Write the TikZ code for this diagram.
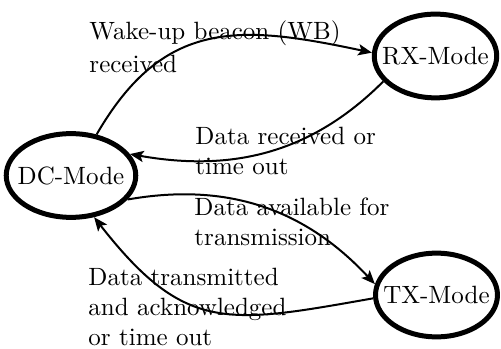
\documentclass[tikz,border=0pt]{standalone}
\usepackage{amsmath}
\usepackage{tikz}
\usetikzlibrary{shapes.geometric,arrows.meta}

\begin{document}
\begin{tikzpicture}[mode/.style={ellipse, draw, line width=2pt, inner xsep=-4pt, minimum height=33.5pt},
                trans/.style={thick, -{Stealth[length=5.5pt,width=4.5pt,inset=1.2pt]}},
                lbl/.style={align=left, inner sep=0pt, anchor=north west}]
                \useasboundingbox (0,0) rectangle (7.043,4.906);
                \node[mode, inner xsep=-3pt] (dc) at (0.998,2.439) {DC-Mode};
                \node[mode] (rx) at (6.122,4.119) {RX-Mode};
                \node[mode] (tx) at (6.136,0.759) {TX-Mode};
                \node[lbl] (wb) at (1.251,4.618) {Wake-up beacon (WB)\\[1pt]received};
                \node[lbl] (rcv) at (2.741,3.127) {Data received or\\time out};
                \node[lbl] (avl) at (2.727,2.128) {Data available for\\transmission};
                \node[lbl] (ack) at (1.237,1.144) {Data transmitted\\and acknowledged\\or time out};
                \draw[trans] (dc.58) to[out=60,in=168,looseness=1.2] (rx.177);
                \draw[trans] (rx.206) to[out=225,in=-10] (dc.20);
                \draw[trans] (dc.-23) to[out=10,in=133] (tx.170);
                \draw[trans] (tx.183) to[out=190,in=-52,looseness=1.3] (dc.-61);
            \end{tikzpicture}
\end{document}
